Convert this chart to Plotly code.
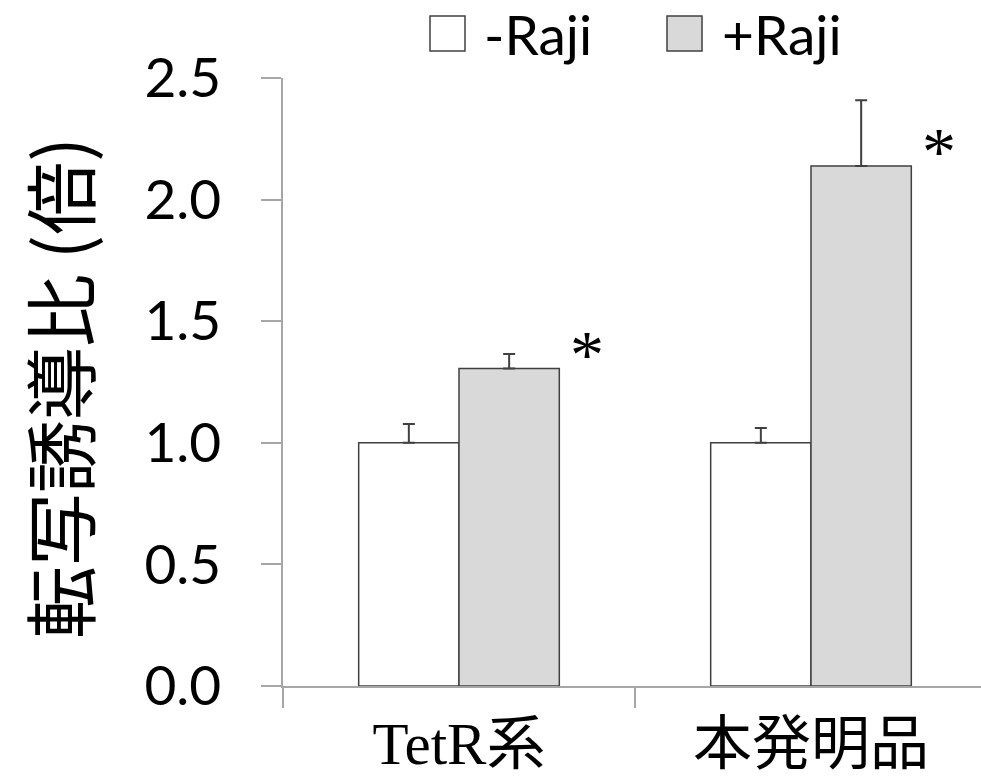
import plotly.graph_objects as go

# Data
categories = ["TetR系", "本発明品"]
minus_raji = [1.00, 1.00]
minus_raji_err = [0.077, 0.061]
plus_raji = [1.305, 2.138]
plus_raji_err = [0.060, 0.270]
series_names = ["-Raji", "+Raji"]
y_ticks = [0.0, 0.5, 1.0, 1.5, 2.0, 2.5]
y_title = "転写誘導比\u2009(倍)"
significance = ["*", "*"]

W, H = 981, 781
ML, MR, MT, MB = 283, 0, 78, 95
PW, PH = W - ML - MR, H - MT - MB

def px_x(px):
    return (px - ML) / PW

def px_y(py):
    return (H - MB - py) / PH

EDGE = "#404040"
AXIS = "#a6a6a6"
fills = ["#ffffff", "#d9d9d9"]

fig = go.Figure()
for name, vals, errs, fill in [
    (series_names[0], minus_raji, minus_raji_err, fills[0]),
    (series_names[1], plus_raji, plus_raji_err, fills[1]),
]:
    fig.add_trace(go.Bar(
        x=categories, y=vals, name=name,
        marker=dict(color=fill, line=dict(color=EDGE, width=1.5)),
        error_y=dict(type="data", array=errs, arrayminus=[0] * len(errs),
                     symmetric=False, color=EDGE, thickness=2, width=6),
        showlegend=False,
    ))

# significance marks beside the +Raji bars
annotations = []
for i, (v, s) in enumerate(zip(plus_raji, significance)):
    annotations.append(dict(
        x=i + 0.364, y=v + 0.06, xref="x", yref="y", text=s, showarrow=False,
        font=dict(family="Liberation Serif", size=68, color="#000000"),
        xanchor="center", yanchor="middle",
    ))

# y-axis title
annotations.append(dict(
    x=px_x(57), y=px_y(388), xref="paper", yref="paper", text=y_title,
    textangle=-90, showarrow=False, xanchor="center", yanchor="middle",
    font=dict(family="Noto Sans CJK JP", size=73, color="#000000"),
))

# legend drawn as boxes plus labels
shapes = []
legend_boxes = [(430, 465), (667, 702)]
legend_text_x = [482, 720]
for (x0, x1), tx, fill, name in zip(legend_boxes, legend_text_x, fills, series_names):
    shapes.append(dict(
        type="rect", xref="paper", yref="paper",
        x0=px_x(x0), x1=px_x(x1), y0=px_y(51), y1=px_y(16),
        fillcolor=fill, line=dict(color=EDGE, width=1.5),
    ))
    annotations.append(dict(
        x=px_x(tx), y=px_y(34), xref="paper", yref="paper", text=name,
        showarrow=False, xanchor="left", yanchor="middle",
        font=dict(family="Lato", size=55, color="#000000"),
    ))

fig.update_layout(
    width=W, height=H,
    margin=dict(l=ML, r=MR, t=MT, b=MB, pad=0, autoexpand=False),
    paper_bgcolor="#ffffff", plot_bgcolor="#ffffff",
    barmode="group", bargap=0.43, bargroupgap=0,
    annotations=annotations, shapes=shapes,
    showlegend=False,
)
fig.update_xaxes(
    type="category", range=[-0.5, -0.5 + PW / 352], automargin=False,
    showline=True, linecolor=AXIS, linewidth=1.5,
    ticks="outside", tickson="boundaries", ticklen=20, tickcolor=AXIS, tickwidth=1.5,
    tickfont=dict(family="Liberation Serif, Noto Sans CJK JP", size=59, color="#000000"),
    ticklabelstandoff=5,
    showgrid=False, zeroline=False,
)
fig.update_yaxes(
    range=[0, 2.5], tickvals=y_ticks, ticktext=[f"{v:.1f}" for v in y_ticks],
    automargin=False,
    showline=True, linecolor=AXIS, linewidth=1.5,
    ticks="outside", ticklen=20, tickcolor=AXIS, tickwidth=1.5,
    tickfont=dict(family="Lato", size=55, color="#000000"),
    ticklabelstandoff=29,
    showgrid=False, zeroline=False,
)

fig.write_html("out.html")
